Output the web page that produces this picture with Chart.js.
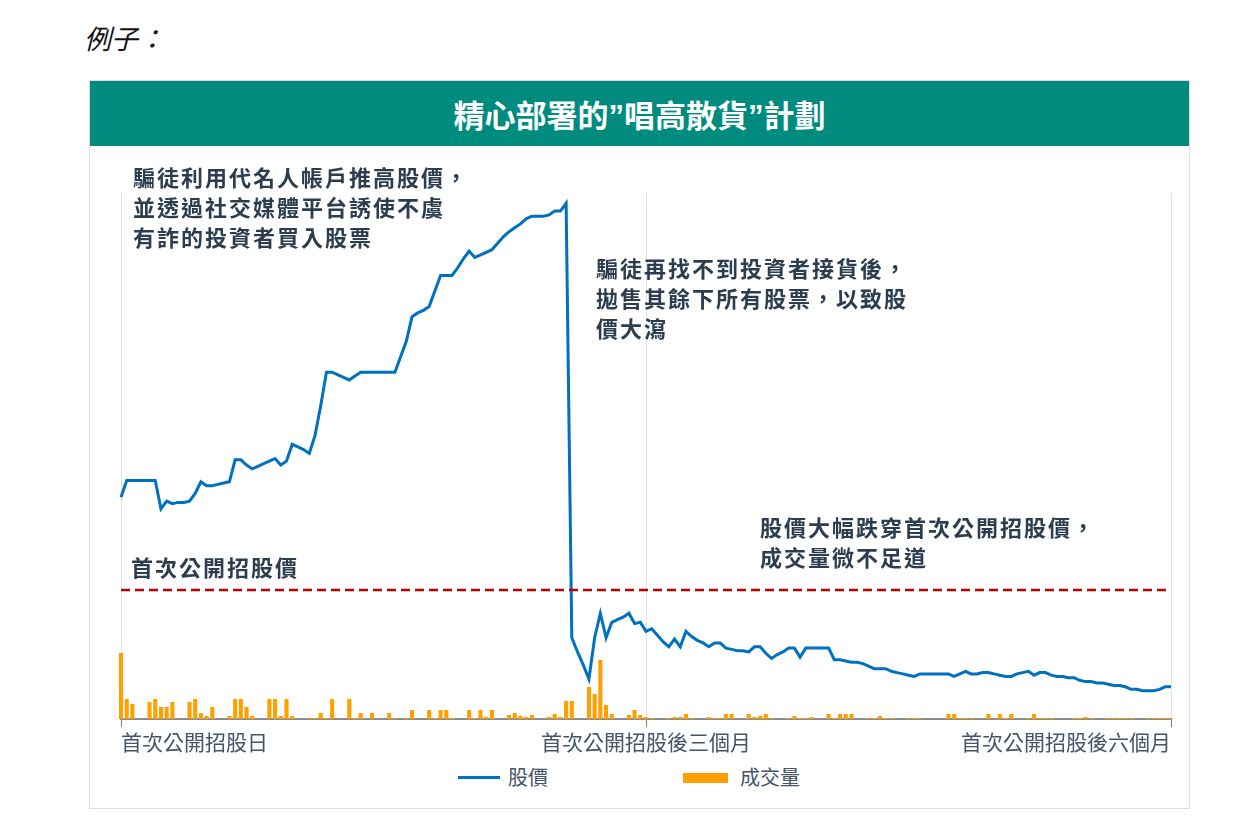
<!DOCTYPE html>
<html lang="zh-Hant">
<head>
<meta charset="utf-8">
<script src="https://cdn.jsdelivr.net/npm/chart.js@4.4.1/dist/chart.umd.min.js"></script>
<style>
  body { margin: 0; background: #fff; font-family: "Noto Sans CJK TC", sans-serif; }
  .abs { position: absolute; }
  #ex { left: 84px; top: 22px; font-size: 27px; font-style: italic; color: #111; line-height: 32px; }
  #panel { left: 89px; top: 80px; width: 1101px; height: 729px; box-sizing: border-box; border: 1px solid #dedede; }
  #head { left: 90px; top: 81px; width: 1099px; height: 65px; background: #008b7f; color: #fff;
          font-size: 31px; font-weight: bold; text-align: center; line-height: 65px; }
  #head .q { font-family: "Liberation Sans", sans-serif; }
  .note { color: #2c3d50; font-size: 22px; font-weight: bold; letter-spacing: 2px; line-height: 30px; white-space: nowrap; }
  .leg { color: #44546a; font-size: 20px; line-height: 24px; }
</style>
</head>
<body>
<div id="ex" class="abs">例子：</div>
<div id="panel" class="abs"></div>
<div id="head" class="abs">精心部署的<span class="q">”</span>唱高散貨<span class="q">”</span>計劃</div>
<canvas id="miGrafico" class="abs" width="1099" height="613" style="left:90px;top:146px;"></canvas>

<div class="abs note" style="left:133px;top:161px;">騙徒利用代名人帳戶推高股價，<br>並透過社交媒體平台誘使不虞<br>有詐的投資者買入股票</div>
<div class="abs note" style="left:596px;top:252px;">騙徒再找不到投資者接貨後，<br>拋售其餘下所有股票，以致股<br>價大瀉</div>
<div class="abs note" style="left:760px;top:511px;">股價大幅跌穿首次公開招股價，<br>成交量微不足道</div>
<div class="abs note" style="left:131px;top:551px;">首次公開招股價</div>

<div class="abs" style="left:458px;top:776px;width:42px;height:3px;background:#0070c0;"></div>
<div class="abs leg" style="left:508px;top:765px;">股價</div>
<div class="abs" style="left:683px;top:773px;width:45px;height:10px;background:#ff9f00;"></div>
<div class="abs leg" style="left:740px;top:765px;">成交量</div>

<script>
// 股價 (以首次公開招股價 = 1.00 計)
const precios = [
  1.72, 1.85, 1.85, 1.85, 1.85, 1.85, 1.85, 1.63, 1.69, 1.67,
  1.68, 1.68, 1.69, 1.75, 1.84, 1.81, 1.81, 1.82, 1.83, 1.84,
  2.01, 2.01, 1.97, 1.94, 1.96, 1.98, 2.00, 2.02, 1.97, 2.00,
  2.13, 2.11, 2.09, 2.06, 2.20, 2.43, 2.69, 2.69, 2.67, 2.65,
  2.63, 2.66, 2.69, 2.69, 2.69, 2.69, 2.69, 2.69, 2.69, 2.81,
  2.93, 3.12, 3.15, 3.17, 3.20, 3.32, 3.44, 3.44, 3.44, 3.50,
  3.57, 3.63, 3.58, 3.60, 3.62, 3.64, 3.69, 3.74, 3.78, 3.81,
  3.84, 3.88, 3.90, 3.90, 3.90, 3.91, 3.94, 3.94, 4.00, 0.63,
  0.52, 0.42, 0.31, 0.63, 0.82, 0.63, 0.75, 0.77, 0.79, 0.82,
  0.74, 0.75, 0.68, 0.70, 0.65, 0.60, 0.56, 0.62, 0.56, 0.68,
  0.64, 0.61, 0.59, 0.56, 0.59, 0.59, 0.55, 0.54, 0.53, 0.53,
  0.52, 0.56, 0.56, 0.51, 0.47, 0.50, 0.52, 0.55, 0.55, 0.48,
  0.55, 0.55, 0.55, 0.55, 0.55, 0.46, 0.46, 0.45, 0.44, 0.44,
  0.43, 0.41, 0.39, 0.39, 0.39, 0.37, 0.36, 0.35, 0.34, 0.33,
  0.35, 0.35, 0.35, 0.35, 0.35, 0.35, 0.33, 0.35, 0.37, 0.35,
  0.35, 0.36, 0.36, 0.35, 0.34, 0.33, 0.33, 0.35, 0.36, 0.37,
  0.34, 0.36, 0.36, 0.34, 0.33, 0.33, 0.32, 0.32, 0.30, 0.29,
  0.29, 0.28, 0.28, 0.27, 0.26, 0.26, 0.25, 0.23, 0.23, 0.22,
  0.22, 0.22, 0.23, 0.25, 0.25
];

// 成交量 (週末為 0)
const volumen = [
  66, 20, 15, 0, 0, 17, 20, 12, 12, 17,
  0, 0, 17, 20, 6, 3, 12, 0, 0, 3,
  20, 20, 12, 3, 0, 0, 20, 20, 3, 20,
  3, 0, 0, 1, 1, 6, 1, 20, 0, 0,
  20, 1, 6, 0, 6, 0, 0, 6, 1, 0,
  1, 9, 0, 0, 9, 1, 9, 9, 1, 0,
  0, 9, 1, 9, 2, 9, 0, 0, 4, 6,
  3, 2, 4, 0, 0, 2, 5, 2, 18, 18,
  0, 0, 32, 25, 59, 14, 5, 0, 0, 4,
  9, 4, 2, 1, 0, 0, 1, 2, 2, 5,
  1, 0, 0, 2, 1, 1, 5, 5, 0, 0,
  5, 2, 3, 5, 1, 0, 0, 1, 3, 1,
  1, 2, 0, 0, 5, 1, 5, 5, 5, 0,
  0, 1, 1, 3, 1, 1, 0, 0, 1, 1,
  1, 0, 0, 0, 0, 5, 5, 1, 1, 1,
  0, 0, 5, 0, 5, 1, 5, 0, 0, 1,
  5, 1, 1, 1, 0, 0, 0, 1, 1, 2,
  1, 0, 0, 1, 1, 1, 1, 1, 0, 0,
  1, 1, 1, 1, 1
];

const dias = precios.map((_, i) => i);
const precioIPO = 1.00;

const ticksPos = [0, 92, 184];
const ticksTexto = ['首次公開招股日', '首次公開招股後三個月', '首次公開招股後六個月'];

// línea discontinua del precio de salida
const lineaIPO = {
    id: 'lineaIPO',
    afterDatasetsDraw(chart) {
        const { ctx, chartArea, scales } = chart;
        const y = scales.y.getPixelForValue(precioIPO);
        ctx.save();
        ctx.strokeStyle = '#c00000';
        ctx.lineWidth = 2.5;
        ctx.setLineDash([9, 5]);
        ctx.beginPath();
        ctx.moveTo(chartArea.left, y);
        ctx.lineTo(chartArea.right - 3, y);
        ctx.stroke();
        ctx.restore();
    }
};

Chart.defaults.font.family = '"Noto Sans CJK TC", sans-serif';

const ctx = document.getElementById('miGrafico').getContext('2d');
const miGrafico = new Chart(ctx, {
    type: 'bar',
    data: {
        labels: dias,
        datasets: [{
            type: 'line',
            label: '股價',
            data: precios,
            borderColor: '#0070c0',
            backgroundColor: '#0070c0',
            borderWidth: 3,
            pointRadius: 0,
            tension: 0,
            yAxisID: 'y',
            order: 0
        }, {
            type: 'bar',
            label: '成交量',
            data: volumen,
            backgroundColor: '#ff9f00',
            barPercentage: 0.72,
            categoryPercentage: 1,
            yAxisID: 'y1',
            clip: false,
            order: 1
        }]
    },
    options: {
        responsive: false,
        animation: false,
        layout: { padding: { left: 31, right: 18, top: 47, bottom: 0 } },
        plugins: {
            legend: { display: false },
            tooltip: { enabled: false }
        },
        scales: {
            x: {
                offset: false,
                afterBuildTicks: (s) => { s.ticks = ticksPos.map(v => ({ value: v })); },
                afterFit: (s) => { s.height = 40; },
                grid: { offset: false, color: '#dbe4ee', tickColor: '#7f7f7f', tickLength: 8, lineWidth: 1 },
                border: { color: '#8c8c8c', width: 2 },
                ticks: {
                    autoSkip: false,
                    maxRotation: 0,
                    align: 'inner',
                    padding: 2,
                    color: '#44546a',
                    font: { size: 21 },
                    callback: (v) => ticksTexto[ticksPos.indexOf(v)]
                }
            },
            y: { display: false, min: 0, max: 4.08 },
            y1: { display: false, min: 0, max: 526 }
        }
    },
    plugins: [lineaIPO]
});
</script>
</body>
</html>
